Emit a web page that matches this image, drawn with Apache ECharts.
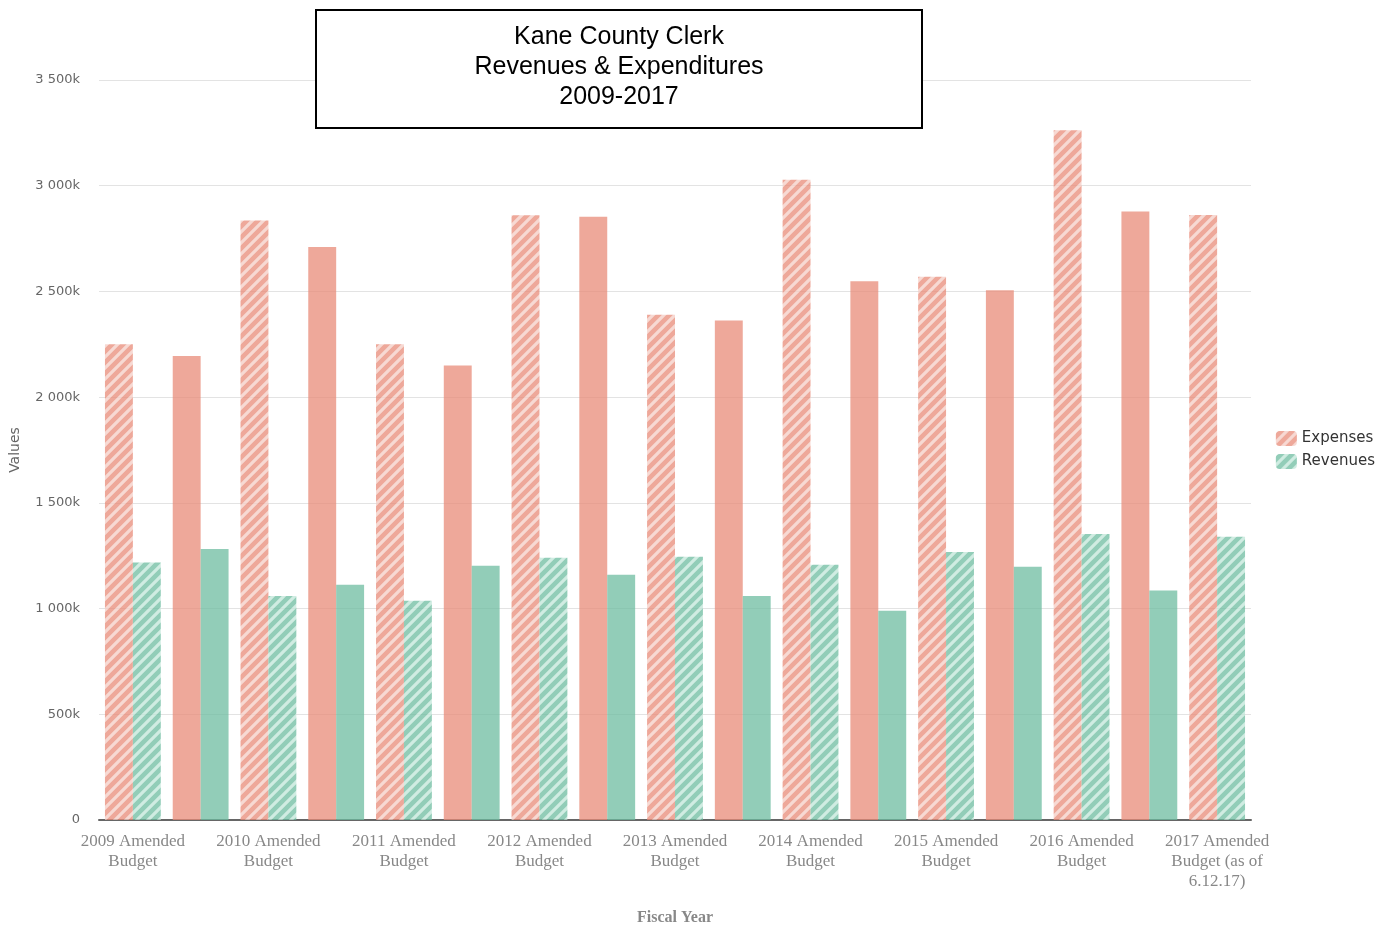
<!DOCTYPE html>
<html lang="en">
<head>
    <meta charset="UTF-8">
    <title>Kane County Clerk</title>
    <script src="https://cdn.jsdelivr.net/npm/echarts@6/dist/echarts.min.js"></script>
    <style>
        html, body { margin: 0; padding: 0; background: #fff; }
    </style>
</head>
<body>
<div id="main" style="width:1388px;height:928px;"></div>
<script>
    // categories alternate: amended budget (hatched) / actual (solid)
    var categories = [
        '2009 Amended\nBudget', '2009 Actual',
        '2010 Amended\nBudget', '2010 Actual',
        '2011 Amended\nBudget', '2011 Actual',
        '2012 Amended\nBudget', '2012 Actual',
        '2013 Amended\nBudget', '2013 Actual',
        '2014 Amended\nBudget', '2014 Actual',
        '2015 Amended\nBudget', '2015 Actual',
        '2016 Amended\nBudget', '2016 Actual',
        '2017 Amended\nBudget (as of\n6.12.17)'
    ];
    var expenses = [2250, 2195, 2835, 2710, 2250, 2150, 2860, 2853, 2390, 2362,
                    3028, 2548, 2570, 2505, 3262, 2878, 2862];
    var revenues = [1218, 1282, 1060, 1113, 1037, 1203, 1240, 1160, 1245, 1060,
                    1207, 990, 1268, 1198, 1353, 1085, 1340];
    var hatched = [1, 0, 1, 0, 1, 0, 1, 0, 1, 0, 1, 0, 1, 0, 1, 0, 1];

    var expColor = '#e88b78', expStripe = '#f5cdc5';
    var revColor = '#6ebca0', revStripe = '#c0e6d8';

    // diagonal stripe tile
    function stripes(base, line) {
        var s = 11;
        var c = document.createElement('canvas');
        c.width = s; c.height = s;
        var ctx = c.getContext('2d');
        ctx.fillStyle = base;
        ctx.fillRect(0, 0, s, s);
        ctx.strokeStyle = line;
        ctx.lineWidth = 3.2;
        ctx.beginPath();
        ctx.moveTo(-2, s + 2); ctx.lineTo(s + 2, -2);
        ctx.moveTo(-2, 2); ctx.lineTo(2, -2);
        ctx.moveTo(s - 2, s + 2); ctx.lineTo(s + 2, s - 2);
        ctx.stroke();
        return { image: c, repeat: 'repeat' };
    }

    function build(values, base) {
        return values.map(function (v, i) {
            if (hatched[i]) return v;
            return { value: v, itemStyle: { color: base } };
        });
    }

    function fmt(v) {
        if (v === 0) return '0';
        var s = String(v);
        if (s.length > 3) s = s.slice(0, s.length - 3) + ' ' + s.slice(s.length - 3);
        return s + 'k';
    }

    var myChart = echarts.init(document.getElementById('main'));

    var option = {
        animation: false,
        grid: { left: 99, right: 137, top: 80, bottom: 108, outerBoundsMode: 'none', containLabel: false },
        legend: {
            orient: 'vertical',
            right: 8,
            top: 426,
            itemWidth: 21,
            itemHeight: 15,
            itemGap: 8,
            textStyle: { fontFamily: 'DejaVu Sans', fontSize: 15, color: '#333' },
            data: ['Expenses', 'Revenues']
        },
        xAxis: {
            type: 'category',
            data: categories,
            name: 'Fiscal Year',
            nameLocation: 'middle',
            nameGap: 90,
            nameTextStyle: { fontFamily: 'Liberation Serif', fontSize: 16, fontWeight: 'bold', color: '#888' },
            axisLine: { lineStyle: { color: '#666', width: 2 } },
            axisTick: { show: false },
            axisLabel: {
                interval: 1,
                margin: 12,
                fontFamily: 'Liberation Serif',
                fontSize: 17,
                lineHeight: 20,
                color: '#888'
            }
        },
        yAxis: {
            type: 'value',
            min: 0,
            max: 3500,
            interval: 500,
            name: 'Values',
            nameLocation: 'middle',
            nameGap: 77,
            nameTextStyle: { fontFamily: 'DejaVu Sans', fontSize: 14, color: '#666' },
            axisLine: { show: false },
            axisTick: { show: false },
            axisLabel: {
                margin: 19,
                formatter: fmt,
                fontFamily: 'DejaVu Sans',
                fontSize: 13,
                color: '#666'
            },
            splitLine: { lineStyle: { color: '#e3e3e3' } }
        },
        series: [{
            name: 'Expenses',
            type: 'bar',
            barGap: '0%',
            barCategoryGap: '17.6%',
            itemStyle: { color: stripes(expColor, expStripe), opacity: 0.75 },
            data: build(expenses, expColor)
        }, {
            name: 'Revenues',
            type: 'bar',
            itemStyle: { color: stripes(revColor, revStripe), opacity: 0.75 },
            data: build(revenues, revColor)
        }],
        graphic: [{
            type: 'rect',
            z: 100,
            shape: { x: 316, y: 10, width: 606, height: 118 },
            style: { fill: '#fff', stroke: '#000', lineWidth: 2 }
        }, {
            type: 'text',
            z: 101,
            x: 619,
            y: 67,
            style: {
                text: 'Kane County Clerk\nRevenues & Expenditures\n2009-2017',
                font: '25px "Liberation Sans"',
                lineHeight: 30,
                fill: '#000',
                align: 'center',
                verticalAlign: 'middle'
            }
        }]
    };

    myChart.setOption(option);
</script>
</body>
</html>
